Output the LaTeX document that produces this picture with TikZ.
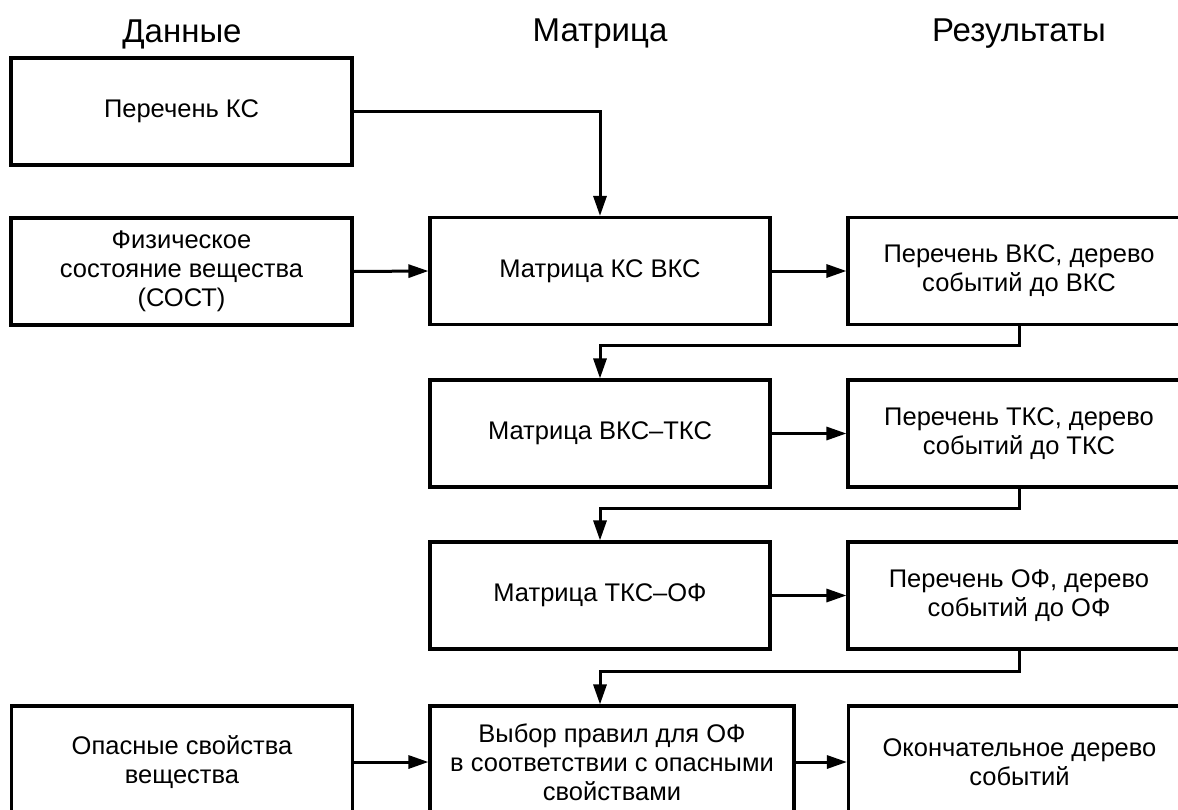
\documentclass[tikz,border=0pt]{standalone}
\usepackage{fontspec}
\setmainfont{Liberation Sans}
\usetikzlibrary{arrows.meta}
\begin{document}
\begin{tikzpicture}[x=1pt,y=-1pt,
  hdr/.style={font=\fontsize{33}{38}\selectfont, inner sep=0pt},
  box/.style={draw, line width=3.1pt, align=center, inner sep=0pt,
    font=\fontsize{25.5}{29}\selectfont, minimum height=107pt},
  conn/.style={line width=3pt},
  arr/.style={conn, -{Triangle[length=20pt,width=13pt]}}]
\useasboundingbox (0,0) rectangle (1178,809);
\clip (0,0) rectangle (1178,809);
\fill[white] (0,0) rectangle (1178,809);
% headers
\node[hdr] (hd) at (182,34) {Данные};
\node[hdr] (hm) at (600,34) {Матрица};
\node[hdr] (hr) at (1019,34) {Результаты};
% data column
\node[box, minimum width=341pt] (ks) at (181.5,111.5) {Перечень КС};
\node[box, minimum width=341pt] (phys) at (181.5,271.5) {Физическое\\состояние вещества\\(СОСТ)};
\node[box, minimum width=341pt, minimum height=112pt] (dang) at (182,762) {Опасные свойства\\вещества};
% matrix column
\node[box, minimum width=340pt] (m1) at (600,271) {Матрица КС ВКС};
\node[box, minimum width=340pt] (m2) at (600,433.5) {Матрица ВКС–ТКС};
\node[box, minimum width=340pt] (m3) at (600,595.5) {Матрица ТКС–ОФ};
\node[box, minimum width=364pt, minimum height=112pt] (m4) at (612,762) {Выбор правил для ОФ\\в соответствии с опасными\\свойствами};
% results column
\node[box, minimum width=342pt] (r1) at (1019,271) {Перечень ВКС, дерево\\событий до ВКС};
\node[box, minimum width=342pt] (r2) at (1019,433.5) {Перечень ТКС, дерево\\событий до ТКС};
\node[box, minimum width=342pt] (r3) at (1019,595.5) {Перечень ОФ, дерево\\событий до ОФ};
\node[box, minimum width=342pt, minimum height=112pt] (r4) at (1019.5,762) {Окончательное дерево\\событий};
% connectors
\draw[arr] (ks.east) -| (m1.north);
\draw[arr] (phys.east) -- (m1.west);
\draw[arr] (m1.east) -- (r1.west);
\draw[arr] (m2.east) -- (r2.west);
\draw[arr] (m3.east) -- (r3.west);
\draw[arr] (dang.east) -- (m4.west);
\draw[arr] (m4.east) -- (r4.west);
\draw[arr] (r1.south) -- ++(0,19) -| (m2.north);
\draw[arr] (r2.south) -- ++(0,20) -| (m3.north);
\draw[arr] (r3.south) -- ++(0,21) -| (m3.south |- m4.north);
\end{tikzpicture}
\end{document}
